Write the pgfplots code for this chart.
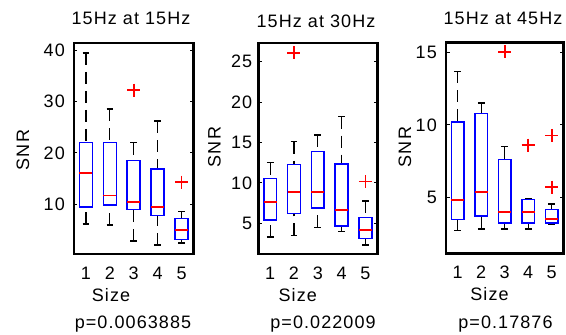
\documentclass[border=0pt]{standalone}
\usepackage{pgfplots}
\pgfplotsset{compat=1.18}
\usepgfplotslibrary{statistics}
\usepackage{fontspec}
\setmainfont[LetterSpace=6]{Liberation Sans}
\newcommand{\fs}{\fontsize{18}{21}\selectfont}
\pgfplotsset{
  panel/.style={
    scale only axis, height=211pt,
    xmin=0.5, xmax=5.5, xtick={1,2,3,4,5},
    /pgf/number format/assume math mode=true,
    tick label style={font=\fs},
    xticklabel style={anchor=center, yshift=-19pt},
    xtick style={draw=none},
    ytick style={line width=1pt, black},
    major tick length=3.5pt,
    tick align=inside,
    clip=false,
    extra description/.code={
      \draw[black, line width=2.6pt, line join=miter]
        (rel axis cs:0,0) rectangle (rel axis cs:1,1);
    },
  },
  bp/.style={
    black, solid,
    boxplot/draw direction=y,
    boxplot/box extend=0.54,
    boxplot/whisker extend=0.28,
    boxplot/every box/.style={draw=blue, line width=1.6pt},
    boxplot/every median/.style={draw=red, line width=1.9pt},
    boxplot/draw/lower whisker/.code={
      \draw[black, line width=1.2pt, dash pattern=on 12pt off 7pt]
        (boxplot box cs:\pgfplotsboxplotvalue{lower whisker},0.5) --
        (boxplot box cs:\pgfplotsboxplotvalue{lower quartile},0.5);
      \draw[black, line width=1.6pt]
        (boxplot whisker cs:\pgfplotsboxplotvalue{lower whisker},0) --
        (boxplot whisker cs:\pgfplotsboxplotvalue{lower whisker},1);
    },
    boxplot/draw/upper whisker/.code={
      \draw[black, line width=1.2pt, dash pattern=on 12pt off 7pt]
        (boxplot box cs:\pgfplotsboxplotvalue{upper whisker},0.5) --
        (boxplot box cs:\pgfplotsboxplotvalue{upper quartile},0.5);
      \draw[black, line width=1.6pt]
        (boxplot whisker cs:\pgfplotsboxplotvalue{upper whisker},0) --
        (boxplot whisker cs:\pgfplotsboxplotvalue{upper whisker},1);
    },
    mark=none,
  },
  outl/.style={only marks, mark=+, mark size=6.5pt, mark options={draw=red, solid, line width=1.7pt}},
}
\begin{document}
\fs
\begin{tikzpicture}
\useasboundingbox (0pt,0pt) rectangle (566pt,335pt);

% ---------- Panel 1 ----------
\begin{axis}[panel, at={(74pt,81pt)}, anchor=south west, width=119.5pt,
  ymin=0.3, ymax=41.4, ytick={10,20,30,40}, yticklabel style={xshift=-3pt}]
\addplot[bp, boxplot prepared={draw position=1, lower whisker=6.2, lower quartile=9.5, median=16.0, upper quartile=22.0, upper whisker=39.5}] coordinates {};
\addplot[bp, boxplot prepared={draw position=2, lower whisker=6.0, lower quartile=9.8, median=11.7, upper quartile=22.0, upper whisker=28.5}] coordinates {};
\addplot[bp, boxplot prepared={draw position=3, lower whisker=2.8, lower quartile=9.0, median=10.4, upper quartile=18.5, upper whisker=22.0}] coordinates {};
\addplot[bp, boxplot prepared={draw position=4, lower whisker=2.1, lower quartile=7.8, median=9.5, upper quartile=16.8, upper whisker=26.2}] coordinates {};
\addplot[bp, boxplot prepared={draw position=5, lower whisker=2.4, lower quartile=3.1, median=5.0, upper quartile=7.2, upper whisker=8.6}] coordinates {};
\addplot[outl] coordinates {(3,32.2) (5,14.3)};
\end{axis}

% ---------- Panel 2 ----------
\begin{axis}[panel, at={(258.3pt,81pt)}, anchor=south west, width=119pt,
  ymin=1.2, ymax=27.3, ytick={5,10,15,20,25}]
\addplot[bp, boxplot prepared={draw position=1, lower whisker=3.3, lower quartile=5.4, median=7.6, upper quartile=10.56, upper whisker=12.5}] coordinates {};
\addplot[bp, boxplot prepared={draw position=2, lower whisker=3.5, lower quartile=6.2, median=8.9, upper quartile=12.25, upper whisker=15.1}] coordinates {};
\addplot[bp, boxplot prepared={draw position=3, lower whisker=4.5, lower quartile=6.9, median=8.9, upper quartile=13.9, upper whisker=15.9}] coordinates {};
\addplot[bp, boxplot prepared={draw position=4, lower whisker=4.0, lower quartile=4.65, median=6.6, upper quartile=12.3, upper whisker=18.2}] coordinates {};
\addplot[bp, boxplot prepared={draw position=5, lower whisker=2.3, lower quartile=3.1, median=4.2, upper quartile=5.7, upper whisker=7.75}] coordinates {};
\addplot[outl] coordinates {(2,26.1) (5,10.15)};
\end{axis}

% ---------- Panel 3 ----------
\begin{axis}[panel, at={(446pt,81.5pt)}, anchor=south west, width=117.5pt,
  ymin=1.1, ymax=15.7, ytick={5,10,15}, yticklabel style={xshift=-3pt}]
\addplot[bp, boxplot prepared={draw position=1, lower whisker=2.7, lower quartile=3.45, median=4.83, upper quartile=10.2, upper whisker=13.7}] coordinates {};
\addplot[bp, boxplot prepared={draw position=2, lower whisker=2.8, lower quartile=3.68, median=5.34, upper quartile=10.8, upper whisker=11.5}] coordinates {};
\addplot[bp, boxplot prepared={draw position=3, lower whisker=2.8, lower quartile=3.2, median=3.98, upper quartile=7.6, upper whisker=8.5}] coordinates {};
\addplot[bp, boxplot prepared={draw position=4, lower whisker=2.8, lower quartile=3.2, median=3.98, upper quartile=4.83, upper whisker=4.9}] coordinates {};
\addplot[bp, boxplot prepared={draw position=5, lower whisker=3.1, lower quartile=3.2, median=3.5, upper quartile=4.14, upper whisker=4.53}] coordinates {};
\addplot[outl] coordinates {(3,15.05) (4,8.6) (5,9.27) (5,5.7)};
\end{axis}

% ---------- Titles and labels ----------
\node[inner sep=0pt, font=\fs] at (131pt,316.5pt) {15Hz at 15Hz};
\node[inner sep=0pt, font=\fs] at (316pt,313.5pt) {15Hz at 30Hz};
\node[inner sep=0pt, font=\fs] at (503pt,316.7pt) {15Hz at 45Hz};

\node[inner sep=0pt, rotate=90, font=\fs] at (23pt,185pt) {SNR};
\node[inner sep=0pt, rotate=90, font=\fs] at (214.5pt,188pt) {SNR};
\node[inner sep=0pt, rotate=90, font=\fs] at (405pt,188pt) {SNR};

\node[inner sep=0pt, font=\fs] at (111pt,40pt) {Size};
\node[inner sep=0pt, font=\fs] at (297.8pt,39.5pt) {Size};
\node[inner sep=0pt, font=\fs] at (489.5pt,40.5pt) {Size};

\node[inner sep=0pt, anchor=base, font=\fs] at (133pt,6.7pt) {p=0.0063885};
\node[inner sep=0pt, anchor=base, font=\fs] at (323pt,6.7pt) {p=0.022009};
\node[inner sep=0pt, anchor=base, font=\fs] at (505.5pt,6pt) {p=0.17876};
\end{tikzpicture}
\end{document}
